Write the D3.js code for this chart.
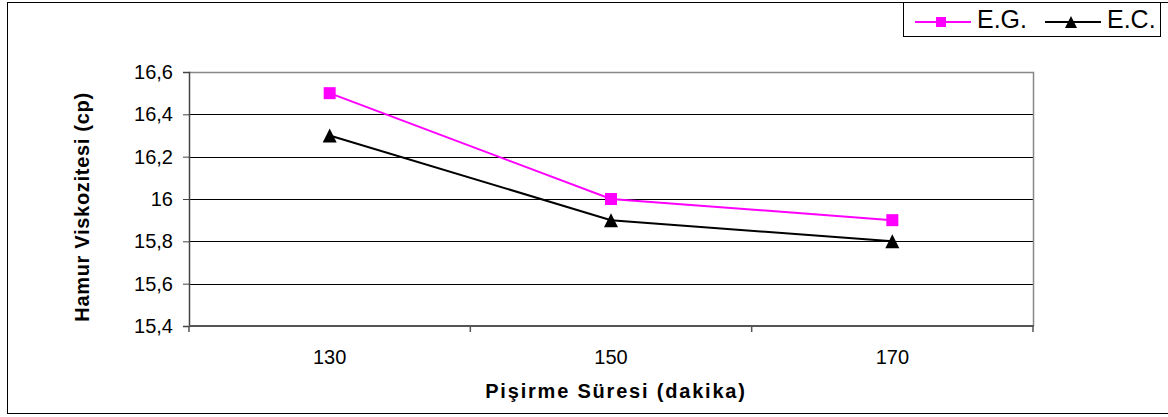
<!DOCTYPE html>
<html>
<head>
<meta charset="utf-8">
<script src="https://cdn.jsdelivr.net/npm/d3@7"></script>
<style>
  html, body { margin: 0; padding: 0; background: #fff; }
  svg { display: block; font-family: "Liberation Sans", Arial, sans-serif; }
</style>
</head>
<body>
<svg id="chart" width="1168" height="417"></svg>
<script>
// Cooking time (minutes) vs. pulp viscosity (cp)
const categories = ["130", "150", "170"];
const seriesNames = ["E.G.", "E.C."];
const egValues = [16.5, 16.0, 15.9];
const ecValues = [16.3, 15.9, 15.8];
const yTicks = [15.4, 15.6, 15.8, 16.0, 16.2, 16.4, 16.6];
const xTitle = "Pişirme Süresi (dakika)";
const yTitle = "Hamur Viskozitesi (cp)";

const svg = d3.select("#chart");
const plot = { left: 189, right: 1033, top: 72, bottom: 326 };

// Outer frame
svg.append("rect")
  .attr("x", 7.5).attr("y", 2.5)
  .attr("width", 1170).attr("height", 411)
  .attr("fill", "#fff").attr("stroke", "#000").attr("stroke-width", 1);

const x = d3.scaleBand().domain(categories).range([plot.left, plot.right]).padding(0);
const y = d3.scaleLinear().domain([15.4, 16.6]).range([plot.bottom, plot.top]);

// Horizontal gridlines
svg.append("g").selectAll("line").data(yTicks.slice(1, -1)).join("line")
  .attr("x1", plot.left).attr("x2", plot.right)
  .attr("y1", d => Math.round(y(d)) + 0.5).attr("y2", d => Math.round(y(d)) + 0.5)
  .attr("stroke", "#000").attr("stroke-width", 1);

// Plot area top and right borders
svg.append("path")
  .attr("d", `M${plot.left},${plot.top + 0.5}H${plot.right + 0.5}V${plot.bottom}`)
  .attr("fill", "none").attr("stroke", "#888").attr("stroke-width", 1.5);

// Y axis
const yAxis = d3.axisLeft(y).tickValues(yTicks).tickSize(6).tickPadding(10)
  .tickFormat(d => d3.format(".1f")(d).replace(".0", "").replace(".", ","));
const gy = svg.append("g").attr("transform", `translate(${plot.left},0)`).call(yAxis);
gy.attr("font-size", 20).attr("font-family", "Liberation Sans, Arial, sans-serif");
gy.select(".domain").attr("stroke", "#444").attr("stroke-width", 1.5);
gy.selectAll(".tick line").attr("stroke", "#444");
gy.selectAll(".tick text").attr("fill", "#000");

// X axis: ticks at category boundaries
const gx = svg.append("g").attr("transform", `translate(0,${plot.bottom})`);
gx.append("line").attr("x1", plot.left).attr("x2", plot.right + 1)
  .attr("stroke", "#555").attr("stroke-width", 2);
const bounds = categories.map(c => x(c)).concat([x(categories[categories.length - 1]) + x.bandwidth()]);
gx.selectAll("line.tick").data(bounds).join("line").attr("class", "tick")
  .attr("x1", d => d).attr("x2", d => d).attr("y1", 0).attr("y2", 6)
  .attr("stroke", "#555").attr("stroke-width", 1.5);
gx.selectAll("text").data(categories).join("text")
  .attr("x", d => x(d) + x.bandwidth() / 2).attr("y", 38)
  .attr("text-anchor", "middle").attr("font-size", 20).text(d => d);

// Axis titles
svg.append("text").attr("x", (plot.left + plot.right) / 2 + 5).attr("y", 398)
  .attr("text-anchor", "middle").attr("font-size", 20).attr("font-weight", "bold")
  .attr("letter-spacing", 1.8).text(xTitle);
svg.append("text").attr("transform", `translate(89,207) rotate(-90)`)
  .attr("text-anchor", "middle").attr("font-size", 20).attr("font-weight", "bold")
  .attr("letter-spacing", 0.7).text(yTitle);

const cx = d => x(d) + x.bandwidth() / 2;
const line = d3.line().x(d => cx(d.c)).y(d => y(d.v));
const series = [
  { name: seriesNames[0], values: egValues, color: "#FF00FF", marker: "square" },
  { name: seriesNames[1], values: ecValues, color: "#000000", marker: "triangle" }
];

function drawMarker(g, type, color, r) {
  if (type === "square") {
    g.append("rect").attr("x", -r).attr("y", -r).attr("width", 2 * r).attr("height", 2 * r).attr("fill", color);
  } else {
    g.append("path").attr("d", `M0,${-r - 1}L${r + 1},${r + 1}L${-r - 1},${r + 1}Z`).attr("fill", color);
  }
}

series.forEach(s => {
  const pts = categories.map((c, i) => ({ c, v: s.values[i] }));
  svg.append("path").datum(pts).attr("d", line)
    .attr("fill", "none").attr("stroke", s.color).attr("stroke-width", 2);
  pts.forEach(p => {
    const g = svg.append("g").attr("transform", `translate(${cx(p.c)},${y(p.v)})`);
    drawMarker(g, s.marker, s.color, 6);
  });
});

// Legend
const legend = svg.append("g");
legend.append("rect").attr("x", 903.5).attr("y", 2.5).attr("width", 257).attr("height", 34)
  .attr("fill", "#fff").attr("stroke", "#000").attr("stroke-width", 1);
const legendItems = [
  { s: series[0], x0: 915, tx: 977 },
  { s: series[1], x0: 1045, tx: 1107 }
];
legendItems.forEach(it => {
  legend.append("line").attr("x1", it.x0).attr("x2", it.x0 + 56).attr("y1", 22).attr("y2", 22)
    .attr("stroke", it.s.color).attr("stroke-width", 2);
  const g = legend.append("g").attr("transform", `translate(${it.x0 + 26},22)`);
  drawMarker(g, it.s.marker, it.s.color, 5);
  legend.append("text").attr("x", it.tx).attr("y", 28).attr("font-size", 25).text(it.s.name);
});
</script>
</body>
</html>
